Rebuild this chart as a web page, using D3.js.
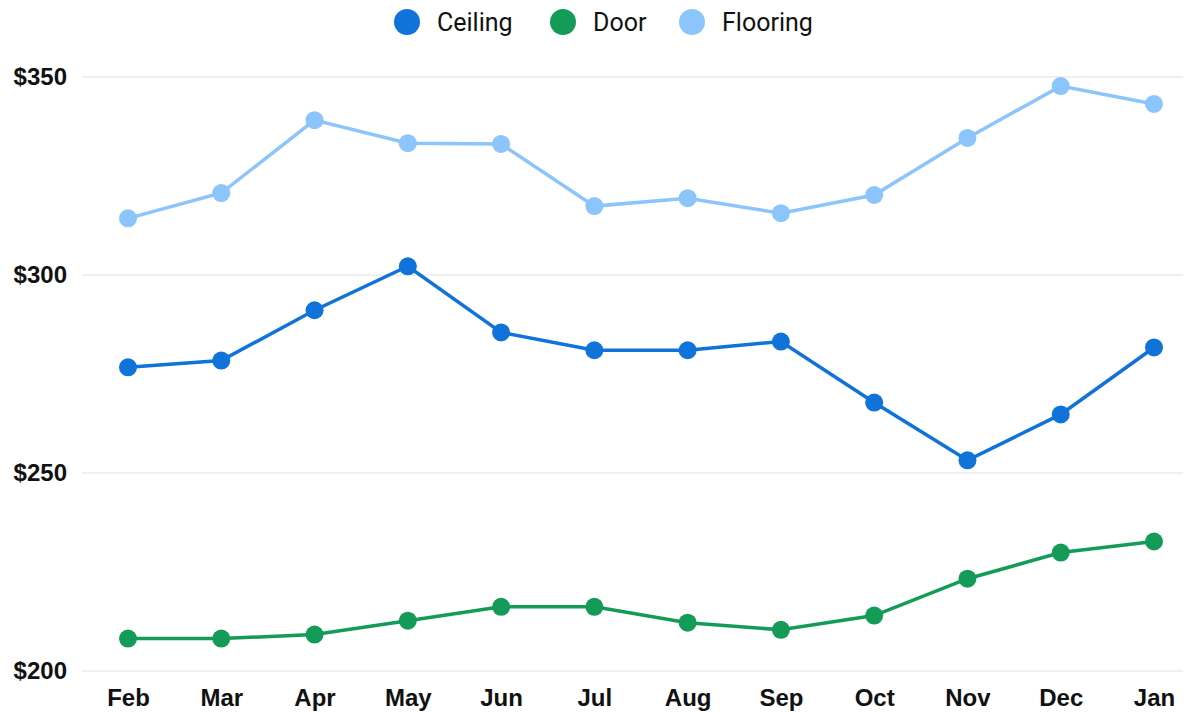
<!DOCTYPE html>
<html>
<head>
<meta charset="utf-8">
<script src="https://cdn.jsdelivr.net/npm/d3@7"></script>
<style>
  body { margin: 0; background: #fff; }
  svg { display: block; }
</style>
</head>
<body>
<svg width="1196" height="712"></svg>
<script>
let months = ['Feb', 'Mar', 'Apr', 'May', 'Jun', 'Jul', 'Aug', 'Sep', 'Oct', 'Nov', 'Dec', 'Jan'];
let seriesNames = ['Ceiling', 'Door', 'Flooring'];
let seriesColors = ['#0f73d9', '#139b57', '#8cc4fc'];
let ceiling = [276.7, 278.4, 291.1, 302.2, 285.5, 281.0, 281.0, 283.2, 267.8, 253.2, 264.8, 281.7];
let door = [208.2, 208.2, 209.2, 212.7, 216.2, 216.2, 212.2, 210.4, 214.0, 223.3, 229.9, 232.7];
let flooring = [314.3, 320.7, 339.1, 333.3, 333.1, 317.4, 319.4, 315.6, 320.2, 334.6, 347.7, 343.2];
let yTicks = [200, 250, 300, 350];

let svg = d3.select('svg');
let width = +svg.attr('width');
let height = +svg.attr('height');

let padding = { t: 77, r: 13, b: 41, l: 82 };

let xScale = d3.scalePoint()
    .domain(months)
    .range([128, 1154]);

let yScale = d3.scaleLinear()
    .domain([200, 350])
    .range([height - padding.b, padding.t]);

// gridlines
svg.append('g').selectAll('line').data(yTicks).enter().append('line')
    .attr('x1', padding.l)
    .attr('x2', width - padding.r)
    .attr('y1', d => yScale(d))
    .attr('y2', d => yScale(d))
    .attr('stroke', '#ebebeb')
    .attr('stroke-width', 1.5);

// y labels
let leftAxis = d3.axisLeft(yScale).tickValues(yTicks).tickSize(0).tickPadding(0)
    .tickFormat(d => '$' + d);
svg.append('g')
    .attr('transform', 'translate(67,0)')
    .call(leftAxis)
    .call(g => g.select('.domain').remove())
    .selectAll('text')
    .attr('font-family', 'Liberation Sans, Arial, sans-serif')
    .attr('font-weight', 'bold')
    .attr('font-size', '24px')
    .attr('fill', '#111');

// x labels
let bottomAxis = d3.axisBottom(xScale).tickSize(0).tickPadding(0);
svg.append('g')
    .attr('transform', 'translate(0,' + (height - padding.b + 18) + ')')
    .call(bottomAxis)
    .call(g => g.select('.domain').remove())
    .selectAll('text')
    .attr('font-family', 'Liberation Sans, Arial, sans-serif')
    .attr('font-weight', 'bold')
    .attr('font-size', '24px')
    .attr('fill', '#111');

let allSeries = [ceiling, door, flooring];

let line = d3.line()
    .x((d, i) => xScale(months[i]))
    .y(d => yScale(d));

allSeries.forEach(function(values, k) {
    let g = svg.append('g');
    g.append('path')
        .datum(values)
        .attr('d', line)
        .attr('fill', 'none')
        .attr('stroke', seriesColors[k])
        .attr('stroke-width', 3.5);
    g.selectAll('circle').data(values).enter().append('circle')
        .attr('cx', (d, i) => xScale(months[i]))
        .attr('cy', d => yScale(d))
        .attr('r', 9)
        .attr('fill', seriesColors[k]);
});

// legend
let legendX = [407, 563, 692];
let legend = svg.append('g');
seriesNames.forEach(function(name, k) {
    legend.append('circle')
        .attr('cx', legendX[k])
        .attr('cy', 22)
        .attr('r', 13)
        .attr('fill', seriesColors[k]);
    legend.append('text')
        .attr('x', legendX[k] + 30)
        .attr('y', 31)
        .text(name)
        .attr('font-family', 'Roboto, sans-serif')
        .attr('font-size', '25px')
        .attr('fill', '#111');
});
</script>
</body>
</html>
